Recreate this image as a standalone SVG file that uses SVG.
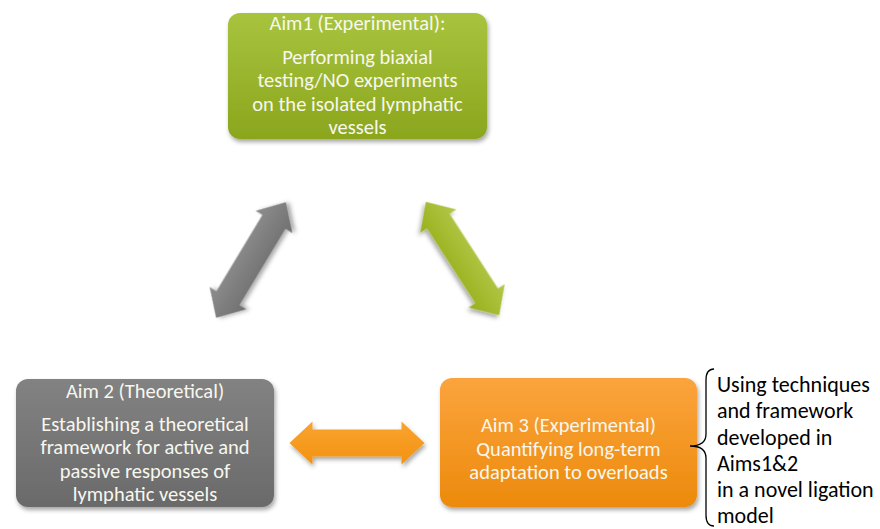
<svg xmlns="http://www.w3.org/2000/svg" width="880" height="529" viewBox="0 0 880 529">
<style>
.box-text{font-family:"Carlito","Liberation Sans",Arial,sans-serif;font-size:20.5px;fill:#f7f7ef;text-anchor:middle}
.note{font-family:"Carlito","Liberation Sans",Arial,sans-serif;font-size:22px;fill:#000}
</style>
<defs>
<linearGradient id="gGreen" x1="0" y1="0" x2="0" y2="1"><stop offset="0" stop-color="#a8c43e"/><stop offset="1" stop-color="#8ba61d"/></linearGradient>
<linearGradient id="gGray" x1="0" y1="0" x2="0" y2="1"><stop offset="0" stop-color="#828282"/><stop offset="1" stop-color="#6a6a6a"/></linearGradient>
<linearGradient id="gOrange" x1="0" y1="0" x2="0" y2="1"><stop offset="0" stop-color="#fba43d"/><stop offset="1" stop-color="#ec8a0c"/></linearGradient>
<linearGradient id="aGray" x1="0" y1="0" x2="0" y2="1"><stop offset="0" stop-color="#8e8e8e"/><stop offset="1" stop-color="#6f6f6f"/></linearGradient>
<linearGradient id="aGreen" x1="0" y1="0" x2="0" y2="1"><stop offset="0" stop-color="#b2c849"/><stop offset="1" stop-color="#98b01c"/></linearGradient>
<linearGradient id="aOrange" x1="0" y1="0" x2="0" y2="1"><stop offset="0" stop-color="#f9a431"/><stop offset="1" stop-color="#f3920f"/></linearGradient>
<filter id="sh" x="-20%" y="-20%" width="140%" height="150%"><feDropShadow dx="1.5" dy="3" stdDeviation="2.2" flood-color="#000" flood-opacity="0.35"/></filter>
<path id="dblArrow" d="M-67.5,0 L-44.5,-21.5 L-44.5,-13.5 L44.5,-13.5 L44.5,-21.5 L67.5,0 L44.5,21.5 L44.5,13.5 L-44.5,13.5 L-44.5,21.5 Z"/>
</defs>
<rect width="880" height="529" fill="#fff"/>

<g id="connectors">
<g transform="translate(251,260) rotate(-58.9)"><use href="#dblArrow" fill="url(#aGray)" filter="url(#sh)"/></g>
<g transform="translate(462.5,258.5) rotate(57.1)"><use href="#dblArrow" fill="url(#aGreen)" filter="url(#sh)"/></g>
<g transform="translate(357,443)"><use href="#dblArrow" fill="url(#aOrange)" filter="url(#sh)"/></g>
</g>

<g id="aim1">
<rect x="228" y="13" width="259" height="126" rx="12" fill="url(#gGreen)" filter="url(#sh)"/>
<text class="box-text" x="357.5" y="30">Aim1 (Experimental):</text>
<text class="box-text" x="357.5" y="63.5">Performing biaxial</text>
<text class="box-text" x="357.5" y="87">testing/NO experiments</text>
<text class="box-text" x="357.5" y="110.5">on the isolated lymphatic</text>
<text class="box-text" x="357.5" y="134">vessels</text>
</g>

<g id="aim2">
<rect x="16" y="379" width="258" height="128" rx="12" fill="url(#gGray)" filter="url(#sh)"/>
<text class="box-text" x="145" y="398">Aim 2 (Theoretical)</text>
<text class="box-text" x="145" y="430.5">Establishing a theoretical</text>
<text class="box-text" x="145" y="454">framework for active and</text>
<text class="box-text" x="145" y="477.5">passive responses of</text>
<text class="box-text" x="145" y="501">lymphatic vessels</text>
</g>

<g id="aim3">
<rect x="440" y="378" width="257" height="129" rx="12" fill="url(#gOrange)" filter="url(#sh)"/>
<text class="box-text" x="568.5" y="431.5">Aim 3 (Experimental)</text>
<text class="box-text" x="568.5" y="455.5">Quantifying long-term</text>
<text class="box-text" x="568.5" y="479">adaptation to overloads</text>
</g>

<g id="note">
<path d="M714,369 Q706,369 706,380 L706,434 Q706,446 690,446 Q706,446 706,458 L706,515 Q706,526 714,526" fill="none" stroke="#000" stroke-width="1.3"/>
<text class="note" x="717" y="392">Using techniques</text>
<text class="note" x="717" y="418">and framework</text>
<text class="note" x="717" y="444.5">developed in</text>
<text class="note" x="717" y="471">Aims1&amp;2</text>
<text class="note" x="717" y="497">in a novel ligation</text>
<text class="note" x="717" y="523">model</text>
</g>
</svg>
